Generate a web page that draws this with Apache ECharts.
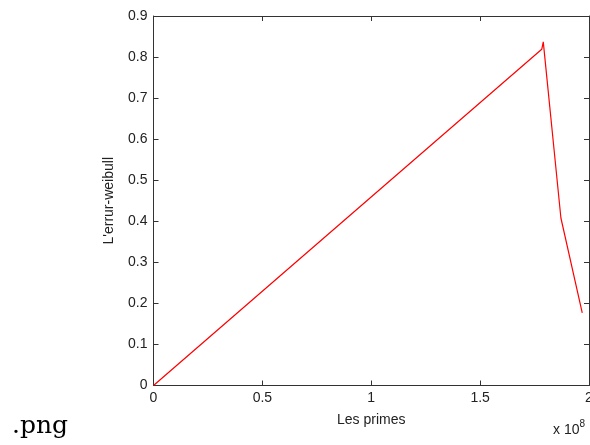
<!DOCTYPE html>
<html>
<head>
<meta charset="utf-8">
<script src="https://cdn.jsdelivr.net/npm/echarts@6/dist/echarts.min.js"></script>
<style>
  html, body { margin: 0; padding: 0; background: #fff; overflow: hidden; }
  #chart { width: 590px; height: 445px; }
</style>
</head>
<body>
<div id="chart"></div>
<script>
// Error curve: x in units of 1e8 primes, y the Weibull error
const primesE8 = [0, 1.783, 1.790, 1.871, 1.969];
const weibullErr = [0, 0.819, 0.837, 0.408, 0.177];
const xTicks = [0, 0.5, 1, 1.5, 2];
const yTicks = [0, 0.1, 0.2, 0.3, 0.4, 0.5, 0.6, 0.7, 0.8, 0.9];

const points = primesE8.map((x, i) => [x, weibullErr[i]]);
const axisColor = '#333';
const textColor = '#222';
const font = 'Liberation Sans, Arial, sans-serif';

const chart = echarts.init(document.getElementById('chart'), null, { renderer: 'canvas' });

const baseTick = { show: true, inside: true, length: 5, lineStyle: { color: axisColor, width: 1 } };

chart.setOption({
  animation: false,
  backgroundColor: '#fff',
  grid: { left: 153.5, top: 16, width: 435.5, height: 369.5, containLabel: false, outerBoundsMode: 'none' },
  xAxis: [
    {
      type: 'value', min: xTicks[0], max: xTicks[xTicks.length - 1], interval: 0.5,
      axisLine: { show: true, lineStyle: { color: axisColor, width: 1 } },
      axisTick: baseTick,
      splitLine: { show: false },
      axisLabel: { color: textColor, fontFamily: font, fontSize: 14, margin: 6,
        formatter: v => String(v) },
      name: 'Les primes', nameLocation: 'middle', nameGap: 28,
      nameTextStyle: { color: textColor, fontFamily: font, fontSize: 14 }
    },
    {
      type: 'value', position: 'top', min: 0, max: 2, interval: 0.5,
      axisLine: { show: true, onZero: false, lineStyle: { color: axisColor, width: 1 } },
      axisTick: baseTick, axisLabel: { show: false }, splitLine: { show: false }
    }
  ],
  yAxis: [
    {
      type: 'value', min: yTicks[0], max: yTicks[yTicks.length - 1], interval: 0.1,
      axisLine: { show: true, lineStyle: { color: axisColor, width: 1 } },
      axisTick: baseTick,
      splitLine: { show: false },
      axisLabel: { color: textColor, fontFamily: font, fontSize: 14, margin: 6,
        formatter: v => String(Math.round(v * 10) / 10) },
      name: "L'errur-weibull", nameLocation: 'middle', nameGap: 37, nameRotate: 90,
      nameTextStyle: { color: textColor, fontFamily: font, fontSize: 14 }
    },
    {
      type: 'value', position: 'right', min: 0, max: 0.9, interval: 0.1,
      axisLine: { show: true, onZero: false, lineStyle: { color: axisColor, width: 1 } },
      axisTick: baseTick, axisLabel: { show: false }, splitLine: { show: false }
    }
  ],
  series: [{
    type: 'line',
    data: points,
    showSymbol: false,
    symbol: 'none',
    lineStyle: { color: '#ff0000', width: 1.2 },
    xAxisIndex: 0, yAxisIndex: 0
  }],
  graphic: [
    {
      type: 'text', left: 553, top: 419,
      style: {
        text: '{x|x }{b|10}{s|8}',
        rich: {
          x: { fontFamily: font, fontSize: 14, fill: textColor },
          b: { fontFamily: font, fontSize: 14, fill: textColor },
          s: { fontFamily: font, fontSize: 10, fill: textColor, padding: [0, 0, 12, 0] }
        }
      }
    },
    {
      type: 'text', left: 12, top: 414,
      style: { text: '.png', fontFamily: 'DejaVu Serif, serif', fontSize: 25, fill: '#000' }
    }
  ]
});
</script>
</body>
</html>
